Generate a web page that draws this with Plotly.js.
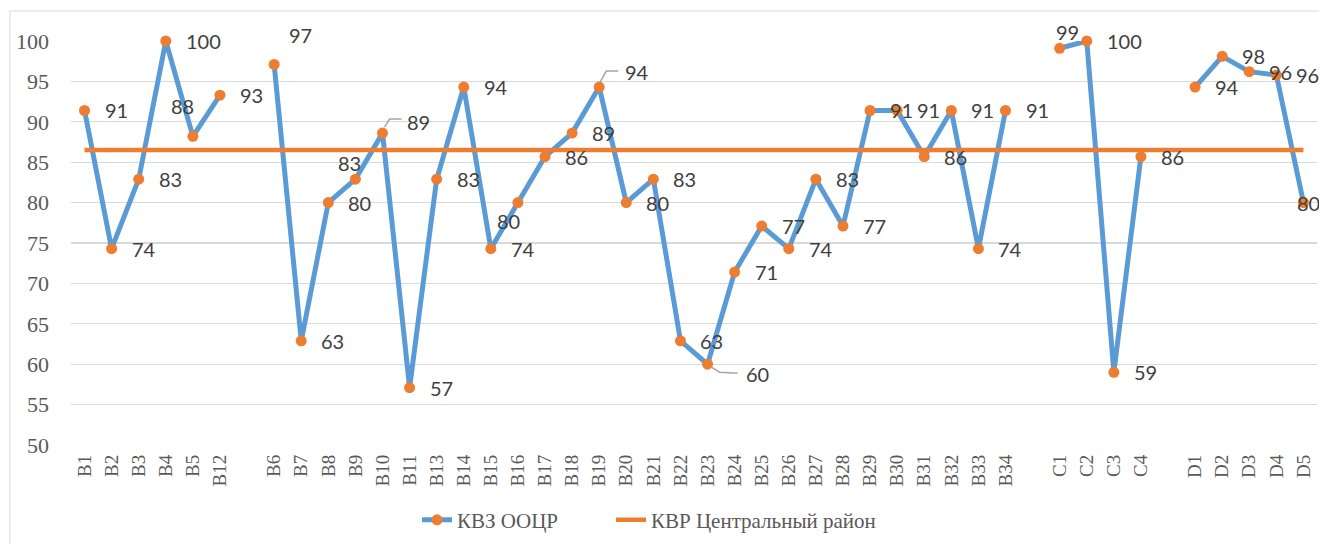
<!DOCTYPE html>
<html>
<head>
<meta charset="utf-8">
<script src="https://cdn.plot.ly/plotly-3.0.1.min.js"></script>
<style>
  html, body { margin: 0; padding: 0; background: #ffffff; }
  #chart { width: 1319px; height: 544px; }
</style>
</head>
<body>
<div id="chart"></div>
<script>
// ---- data ----
const categories = ['B1','B2','B3','B4','B5','B12','gap1','B6','B7','B8','B9','B10','B11','B13','B14','B15','B16','B17','B18','B19','B20','B21','B22','B23','B24','B25','B26','B27','B28','B29','B30','B31','B32','B33','B34','gap2','C1','C2','C3','C4','gap3','D1','D2','D3','D4','D5'];
const tickLabels = ['B1','B2','B3','B4','B5','B12','','B6','B7','B8','B9','B10','B11','B13','B14','B15','B16','B17','B18','B19','B20','B21','B22','B23','B24','B25','B26','B27','B28','B29','B30','B31','B32','B33','B34','','C1','C2','C3','C4','','D1','D2','D3','D4','D5'];
const kvzValues = [91.4,74.3,82.9,100,88.2,93.3,null,97.1,62.9,80.0,82.9,88.6,57.1,82.9,94.3,74.3,80.0,85.7,88.6,94.3,80.0,82.9,62.9,60.0,71.4,77.1,74.3,82.9,77.1,91.4,91.4,85.7,91.4,74.3,91.4,null,99.1,100,59.0,85.7,null,94.3,98.1,96.2,95.8,80.0];
const kvrValues = [86.5,86.5,86.5,86.5,86.5,86.5,86.5,86.5,86.5,86.5,86.5,86.5,86.5,86.5,86.5,86.5,86.5,86.5,86.5,86.5,86.5,86.5,86.5,86.5,86.5,86.5,86.5,86.5,86.5,86.5,86.5,86.5,86.5,86.5,86.5,86.5,86.5,86.5,86.5,86.5,86.5,86.5,86.5,86.5,86.5,86.5];
const seriesNames = ['КВЗ ООЦР', 'КВР Центральный район'];

// ---- label placement (pixels: dx right, dy up; centred labels) ----
const labelOffsets = {B5:[-10,30], B6:[26,29], B9:[-6,16], B10:[36,11], B16:[-9,-18], B19:[38,15], B23:[50,-10], C1:[8,16], D5:[5,0]};
const leaderPaths = {B10:'M2,6 L7,14 L19,14', B19:'M1,5 L7,16 L19,16', B23:'M4,-3 L12,-8 L30,-9'};

const BLUE = '#5B9BD5', ORANGE = '#ED7D31', GRID = '#d9d9d9', AXTEXT = '#595959', LBL = '#404040';
const SERIF = '"Liberation Serif", "Times New Roman", Times, serif';

const traces = [
  {
    type: 'scatter', mode: 'lines+markers', name: seriesNames[0], legend: 'legend',
    x: categories, y: kvzValues, connectgaps: false, cliponaxis: false,
    line: {color: BLUE, width: 5},
    marker: {color: ORANGE, size: 11, line: {width: 0}},
    hoverinfo: 'skip'
  },
  {
    type: 'scatter', mode: 'lines', name: seriesNames[1], legend: 'legend2',
    x: categories, y: kvrValues, cliponaxis: false,
    line: {color: ORANGE, width: 4.5},
    hoverinfo: 'skip'
  }
];

const annotations = [];
const shapes = [];
categories.forEach((c, i) => {
  const v = kvzValues[i];
  if (v === null) return;
  const off = labelOffsets[c];
  const a = {
    x: c, y: v, xref: 'x', yref: 'y', text: String(Math.round(v)),
    showarrow: false, font: {family: 'Lato, "Open Sans", sans-serif', size: 20, color: LBL},
    borderpad: 0
  };
  if (off) { a.xanchor = 'center'; a.yanchor = 'middle'; a.xshift = off[0]; a.yshift = off[1]; }
  else { a.xanchor = 'left'; a.yanchor = 'middle'; a.xshift = 19; a.yshift = 0; }
  annotations.push(a);
  if (leaderPaths[c]) {
    shapes.push({
      type: 'path', xref: 'x', yref: 'y', xsizemode: 'pixel', ysizemode: 'pixel',
      xanchor: i, yanchor: v, path: leaderPaths[c],
      line: {color: '#a6a6a6', width: 1.5}, layer: 'above'
    });
  }
});

// chart frame
shapes.push({type: 'rect', xref: 'paper', yref: 'paper', x0: -0.049, x1: 1.2, y0: -0.5, y1: 1.0743,
  line: {color: GRID, width: 1}, fillcolor: 'rgba(0,0,0,0)', layer: 'below'});

const legendFont = {family: SERIF, size: 21, color: AXTEXT};
const layout = {
  width: 1319, height: 544,
  margin: {l: 71, r: 2, t: 41, b: 99, pad: 0},
  paper_bgcolor: '#ffffff', plot_bgcolor: '#ffffff',
  showlegend: true,
  legend: {orientation: 'h', x: 0.2777, xanchor: 'left', y: -0.186, yanchor: 'middle', font: legendFont},
  legend2: {orientation: 'h', x: 0.4334, xanchor: 'left', y: -0.186, yanchor: 'middle', font: legendFont},
  xaxis: {
    type: 'category', categoryorder: 'array', categoryarray: categories,
    tickmode: 'array', tickvals: categories, ticktext: tickLabels,
    tickangle: -90, showgrid: false, zeroline: false, showline: false, ticks: '',
    tickfont: {family: SERIF, size: 19, color: AXTEXT},
    ticklabelstandoff: 5,
    range: [-0.5, categories.length - 0.5]
  },
  yaxis: {
    range: [50, 100], dtick: 5, tick0: 50, showgrid: true, gridcolor: GRID, gridwidth: 1.3,
    zeroline: false, showline: false, ticks: '',
    tickfont: {family: SERIF, size: 22, color: AXTEXT},
    ticklabelstandoff: 21
  },
  annotations: annotations,
  shapes: shapes,
  hovermode: false
};

Plotly.newPlot('chart', traces, layout, {displayModeBar: false, staticPlot: true});
</script>
</body>
</html>
